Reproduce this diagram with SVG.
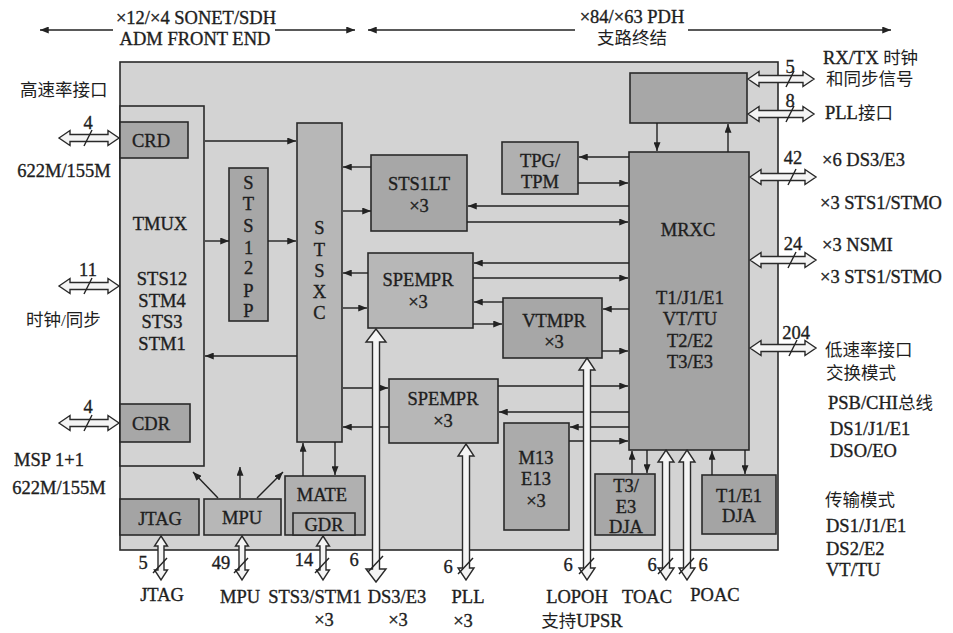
<svg xmlns="http://www.w3.org/2000/svg" width="953" height="633" viewBox="0 0 953 633">
<defs>
<marker id="ah" viewBox="0 0 10 8" refX="10" refY="4" markerWidth="9" markerHeight="7" markerUnits="userSpaceOnUse" orient="auto"><path d="M0,0 L10,4 L0,8 Z" fill="#222"/></marker>
<style>
.t{font-family:"Liberation Serif","Noto Sans CJK SC",serif;font-size:18.5px;fill:#1e1e1e;stroke:#1e1e1e;stroke-width:0.35;text-anchor:middle}
.s{text-anchor:start}
.c{font-family:"Liberation Serif","Noto Sans CJK SC",serif;font-size:17.5px;fill:#1e1e1e}
.bx{stroke:#2a2a2a;stroke-width:1.6}
.d{fill:#a7a7a7}
.m{fill:#b7b7b7}
.l{stroke:#222;stroke-width:1.4;fill:none;marker-end:url(#ah)}
.h{fill:#f4f4f4;stroke:#2a2a2a;stroke-width:1.4}
.sl{stroke:#222;stroke-width:1.4}
</style>
</defs>
<rect width="953" height="633" fill="#ffffff"/>

<g id="header">
<line class="l" x1="113" y1="30" x2="40" y2="30"/>
<line class="l" x1="275" y1="30" x2="355" y2="30"/>
<line class="l" x1="575" y1="30" x2="368" y2="30"/>
<line class="l" x1="688" y1="30" x2="891" y2="30"/>
<text class="t" x="196" y="23.5">×12/×4 SONET/SDH</text>
<text class="t" x="195" y="44.5">ADM FRONT END</text>
<text class="t" x="632" y="23">×84/×63 PDH</text>
<text class="c" x="632" y="44" text-anchor="middle">支路终结</text>
</g>

<g id="chip"><rect class="bx" x="120" y="62" width="658" height="488" fill="#d3d3d3"/></g>

<g id="tmux">
<rect class="bx" x="120" y="106" width="84" height="360" fill="#d3d3d3"/>
<text class="t" x="160" y="229.5">TMUX</text>
<text class="t" x="162" y="284.5">STS12</text>
<text class="t" x="162" y="306.5">STM4</text>
<text class="t" x="162" y="327.5">STS3</text>
<text class="t" x="162" y="349.5">STM1</text>
</g>
<g id="crd"><rect class="bx d" x="120" y="122" width="68" height="36"/><text class="t" x="151" y="146.5">CRD</text></g>
<g id="cdr"><rect class="bx d" x="120" y="404" width="70" height="38"/><text class="t" x="151" y="429.5">CDR</text></g>

<g id="sts12pp">
<rect class="bx d" x="229" y="168" width="39" height="153"/>
<text class="t" x="248.5" y="188.5">S</text><text class="t" x="248.5" y="209.5">T</text><text class="t" x="248.5" y="231.5">S</text><text class="t" x="248.5" y="253.5">1</text><text class="t" x="248.5" y="273.5">2</text><text class="t" x="248.5" y="296.5">P</text><text class="t" x="248.5" y="316.5">P</text>
</g>
<g id="stsxc">
<rect class="bx m" x="297" y="123" width="45" height="319"/>
<text class="t" x="319.5" y="233.5">S</text><text class="t" x="319.5" y="255.5">T</text><text class="t" x="319.5" y="276.5">S</text><text class="t" x="319.5" y="297.5">X</text><text class="t" x="319.5" y="318.5">C</text>
</g>
<g id="sts1lt"><rect class="bx d" x="371" y="155" width="96" height="76"/><text class="t" x="419" y="189.5">STS1LT</text><text class="t" x="419" y="211.5">×3</text></g>
<g id="tpg"><rect class="bx" x="502" y="142" width="76" height="52" fill="#b0b0b0"/><text class="t" x="540" y="166.5">TPG/</text><text class="t" x="540" y="187.5">TPM</text></g>
<g id="spempr1"><rect class="bx m" x="368" y="253" width="105" height="75"/><text class="t" x="418" y="285.5">SPEMPR</text><text class="t" x="418" y="307.5">×3</text></g>
<g id="vtmpr"><rect class="bx d" x="503" y="298" width="99" height="60"/><text class="t" x="554" y="326.5">VTMPR</text><text class="t" x="554" y="347.5">×3</text></g>
<g id="spempr2"><rect class="bx m" x="389" y="379" width="109" height="64"/><text class="t" x="443" y="404.5">SPEMPR</text><text class="t" x="443" y="426.5">×3</text></g>
<g id="m13"><rect class="bx" x="504" y="423" width="65" height="107" fill="#ababab"/><text class="t" x="536" y="463.5">M13</text><text class="t" x="536" y="484.5">E13</text><text class="t" x="536" y="506.5">×3</text></g>
<g id="topbox"><rect class="bx d" x="630" y="73" width="117" height="50"/></g>
<g id="mrxc">
<rect class="bx" x="629" y="152" width="120" height="298" fill="#a4a4a4"/>
<text class="t" x="688" y="235.5">MRXC</text>
<text class="t" x="690" y="303.5">T1/J1/E1</text>
<text class="t" x="690" y="324.5">VT/TU</text>
<text class="t" x="690" y="346.5">T2/E2</text>
<text class="t" x="690" y="367.5">T3/E3</text>
</g>
<g id="t3dja"><rect class="bx d" x="595" y="474" width="60" height="61"/><text class="t" x="626" y="492">T3/</text><text class="t" x="626" y="513">E3</text><text class="t" x="626" y="533">DJA</text></g>
<g id="t1dja"><rect class="bx" x="702" y="475" width="74" height="59" fill="#a4a4a4"/><text class="t" x="739" y="501.5">T1/E1</text><text class="t" x="739" y="521.5">DJA</text></g>
<g id="jtag"><rect class="bx" x="120" y="499" width="79" height="36" fill="#a4a4a4"/><text class="t" x="160" y="524.5">JTAG</text></g>
<g id="mpu"><rect class="bx m" x="204" y="499" width="77" height="36"/><text class="t" x="242" y="523.5">MPU</text></g>
<g id="mate"><rect class="bx" x="285" y="476" width="80" height="59" fill="#b0b0b0"/><text class="t" x="322" y="500.5">MATE</text></g>
<g id="gdr"><rect class="bx" x="293" y="513" width="62" height="22" fill="#b0b0b0"/><text class="t" x="324" y="531">GDR</text></g>

<g id="connectors">
<line class="l" x1="205" y1="141" x2="296" y2="141"/>
<line class="l" x1="205" y1="241" x2="229" y2="241"/>
<line class="l" x1="268" y1="241" x2="296" y2="241"/>
<line class="l" x1="297" y1="356" x2="205" y2="356"/>
<line class="l" x1="371" y1="167" x2="343" y2="167"/>
<line class="l" x1="343" y1="211" x2="371" y2="211"/>
<line class="l" x1="629" y1="157" x2="579" y2="157"/>
<line class="l" x1="578" y1="183" x2="628" y2="183"/>
<line class="l" x1="629" y1="206" x2="468" y2="206"/>
<line class="l" x1="467" y1="222" x2="628" y2="222"/>
<line class="l" x1="368" y1="273" x2="343" y2="273"/>
<line class="l" x1="343" y1="308" x2="367" y2="308"/>
<line class="l" x1="629" y1="263" x2="474" y2="263"/>
<line class="l" x1="473" y1="278" x2="628" y2="278"/>
<line class="l" x1="503" y1="302" x2="474" y2="302"/>
<line class="l" x1="473" y1="324" x2="502" y2="324"/>
<line class="l" x1="629" y1="309" x2="603" y2="309"/>
<line class="l" x1="602" y1="351" x2="628" y2="351"/>
<line class="l" x1="343" y1="388" x2="388" y2="388"/>
<line class="l" x1="389" y1="427" x2="343" y2="427"/>
<line class="l" x1="498" y1="386" x2="628" y2="386"/>
<line class="l" x1="629" y1="412" x2="499" y2="412"/>
<line class="l" x1="629" y1="427" x2="570" y2="427"/>
<line class="l" x1="569" y1="441" x2="628" y2="441"/>
<line class="l" x1="632" y1="474" x2="632" y2="451"/>
<line class="l" x1="647" y1="450" x2="647" y2="473"/>
<line class="l" x1="712" y1="475" x2="712" y2="451"/>
<line class="l" x1="745" y1="450" x2="745" y2="474"/>
<line class="l" x1="657" y1="123" x2="657" y2="151"/>
<line class="l" x1="728" y1="152" x2="728" y2="124"/>
<line class="l" x1="218" y1="498" x2="193" y2="472"/>
<line class="l" x1="240" y1="498" x2="240" y2="467"/>
<line class="l" x1="257" y1="498" x2="283" y2="472"/>
<line class="l" x1="303" y1="476" x2="303" y2="443"/>
<line class="l" x1="335" y1="442" x2="335" y2="475"/>

<path class="h" d="M59,138 L70,130.5 L70,134.5 L108,134.5 L108,130.5 L119,138 L108,145.5 L108,141.5 L70,141.5 L70,145.5 Z"/>
<path class="h" d="M59,286 L70,278.5 L70,282.5 L108,282.5 L108,278.5 L119,286 L108,293.5 L108,289.5 L70,289.5 L70,293.5 Z"/>
<path class="h" d="M59,423 L70,415.5 L70,419.5 L108,419.5 L108,415.5 L119,423 L108,430.5 L108,426.5 L70,426.5 L70,430.5 Z"/>
<path class="h" d="M748,79 L759,71.5 L759,75.5 L803,75.5 L803,71.5 L814,79 L803,86.5 L803,82.5 L759,82.5 L759,86.5 Z"/>
<path class="h" d="M748,114 L759,106.5 L759,110.5 L803,110.5 L803,106.5 L814,114 L803,121.5 L803,117.5 L759,117.5 L759,121.5 Z"/>
<path class="h" d="M750,177 L761,169.5 L761,173.5 L805,173.5 L805,169.5 L816,177 L805,184.5 L805,180.5 L761,180.5 L761,184.5 Z"/>
<path class="h" d="M750,260 L761,252.5 L761,256.5 L805,256.5 L805,252.5 L816,260 L805,267.5 L805,263.5 L761,263.5 L761,267.5 Z"/>
<path class="h" d="M750,348 L761,340.5 L761,344.5 L805,344.5 L805,340.5 L816,348 L805,355.5 L805,351.5 L761,351.5 L761,355.5 Z"/>
<path class="h" d="M161,536 L167.5,546 L164,546 L164,570 L167.5,570 L161,580 L154.5,570 L158,570 L158,546 L154.5,546 Z"/>
<path class="h" d="M242,536 L248.5,546 L245,546 L245,570 L248.5,570 L242,580 L235.5,570 L239,570 L239,546 L235.5,546 Z"/>
<path class="h" d="M323,536 L329.5,546 L326,546 L326,570 L329.5,570 L323,580 L316.5,570 L320,570 L320,546 L316.5,546 Z"/>
<path class="h" d="M376,329 L386,342 L379.5,342 L379.5,569 L386,569 L376,582 L366,569 L372.5,569 L372.5,342 L366,342 Z"/>
<path class="h" d="M466,444 L474,456 L469.5,456 L469.5,568 L474,568 L466,580 L458,568 L462.5,568 L462.5,456 L458,456 Z"/>
<path class="h" d="M587,358 L595,370 L590.5,370 L590.5,568 L595,568 L587,580 L579,568 L583.5,568 L583.5,370 L579,370 Z"/>
<path class="h" d="M666,450 L674,462 L669.5,462 L669.5,568 L674,568 L666,580 L658,568 L662.5,568 L662.5,462 L658,462 Z"/>
<path class="h" d="M687,450 L695,462 L690.5,462 L690.5,568 L695,568 L687,580 L679,568 L683.5,568 L683.5,462 L679,462 Z"/>

<line class="sl" x1="84" y1="146" x2="92" y2="130"/>
<line class="sl" x1="84" y1="294" x2="92" y2="278"/>
<line class="sl" x1="84" y1="431" x2="92" y2="415"/>
<line class="sl" x1="786" y1="87" x2="794" y2="71"/>
<line class="sl" x1="786" y1="122" x2="794" y2="106"/>
<line class="sl" x1="788" y1="185" x2="796" y2="169"/>
<line class="sl" x1="788" y1="268" x2="796" y2="252"/>
<line class="sl" x1="789" y1="356" x2="797" y2="340"/>
<line class="sl" x1="153" y1="573" x2="167" y2="558"/>
<line class="sl" x1="234" y1="573" x2="248" y2="558"/>
<line class="sl" x1="315" y1="573" x2="329" y2="558"/>
<line class="sl" x1="368" y1="572" x2="383" y2="556"/>
<line class="sl" x1="458" y1="574" x2="473" y2="558"/>
<line class="sl" x1="579" y1="574" x2="594" y2="558"/>
<line class="sl" x1="658" y1="574" x2="673" y2="558"/>
<line class="sl" x1="679" y1="574" x2="694" y2="558"/>
</g>

<g id="labels">
<text class="c" x="20" y="96">高速率接口</text>
<text class="t" x="88" y="129">4</text>
<text class="t" x="64" y="177">622M/155M</text>
<text class="t" x="88" y="276">11</text>
<text class="c" x="26" y="326">时钟/同步</text>
<text class="t" x="88" y="413">4</text>
<text class="t s" x="14" y="466">MSP 1+1</text>
<text class="t" x="59" y="494">622M/155M</text>

<text class="t" x="790" y="73">5</text>
<text class="t s" x="823" y="64">RX/TX <tspan style="font-family:'Noto Sans CJK SC',sans-serif;font-size:17.5px;stroke:none">时钟</tspan></text>
<text class="c" x="826" y="85">和同步信号</text>
<text class="t" x="790" y="107">8</text>
<text class="t s" x="825" y="119">PLL<tspan style="font-family:'Noto Sans CJK SC',sans-serif;font-size:17.5px;stroke:none">接口</tspan></text>
<text class="t" x="793" y="164">42</text>
<text class="t s" x="822" y="166">×6 DS3/E3</text>
<text class="t s" x="820" y="209">×3 STS1/STMO</text>
<text class="t" x="793" y="250">24</text>
<text class="t s" x="822" y="251">×3 NSMI</text>
<text class="t s" x="820" y="283">×3 STS1/STMO</text>
<text class="t" x="796" y="339">204</text>
<text class="c" x="825" y="356">低速率接口</text>
<text class="c" x="826" y="379">交换模式</text>
<text class="t s" x="828" y="409">PSB/CHI<tspan style="font-family:'Noto Sans CJK SC',sans-serif;font-size:17.5px;stroke:none">总线</tspan></text>
<text class="t s" x="830" y="435">DS1/J1/E1</text>
<text class="t s" x="830" y="457">DSO/EO</text>
<text class="c" x="825" y="506">传输模式</text>
<text class="t s" x="826" y="532">DS1/J1/E1</text>
<text class="t s" x="826" y="555">DS2/E2</text>
<text class="t s" x="826" y="576">VT/TU</text>

<text class="t" x="143" y="569">5</text>
<text class="t" x="221" y="569">49</text>
<text class="t" x="304" y="566">14</text>
<text class="t" x="354" y="566">6</text>
<text class="t" x="448" y="573">6</text>
<text class="t" x="568" y="571">6</text>
<text class="t" x="652" y="571">6</text>
<text class="t" x="703" y="571">6</text>

<text class="t" x="162" y="601">JTAG</text>
<text class="t" x="240" y="603">MPU</text>
<text class="t" x="315" y="603">STS3/STM1</text>
<text class="t" x="324" y="626">×3</text>
<text class="t" x="397" y="603">DS3/E3</text>
<text class="t" x="398" y="626">×3</text>
<text class="t" x="468" y="603">PLL</text>
<text class="t" x="463" y="627">×3</text>
<text class="t" x="577" y="603">LOPOH</text>
<text class="t" x="582" y="627"><tspan style="font-family:'Noto Sans CJK SC',sans-serif;font-size:17.5px;stroke:none">支持</tspan>UPSR</text>
<text class="t" x="647" y="603">TOAC</text>
<text class="t" x="715" y="601">POAC</text>
</g>
</svg>
